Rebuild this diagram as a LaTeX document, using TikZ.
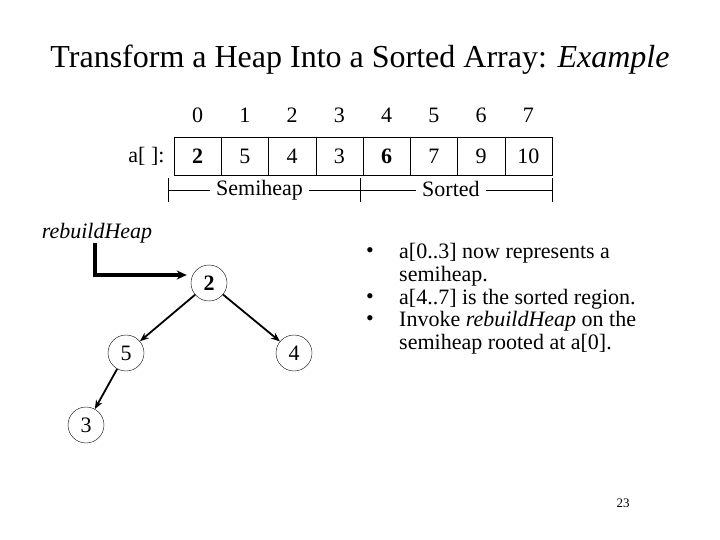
\documentclass[tikz,border=0pt]{standalone}
\usepackage{fontspec}
\setmainfont{Liberation Serif}
\usetikzlibrary{arrows.meta}
\begin{document}
\begin{tikzpicture}[x=1pt,y=-1pt,
  cellbox/.style={draw,minimum width=47.25pt,minimum height=38pt,inner sep=0pt,font=\fontsize{22}{26}\selectfont},
  idx/.style={font=\fontsize{22}{26}\selectfont},
  tnode/.style={draw,circle,minimum size=36pt,inner sep=0pt,font=\fontsize{22}{26}\selectfont},
  edge/.style={-{Stealth[length=9pt,width=7pt]},line width=1.8pt},
  txt/.style={font=\fontsize{22}{26}\selectfont,anchor=west,inner sep=0pt}]
\useasboundingbox (0,0) rectangle (720,540);
\node[font=\fontsize{32}{38}\selectfont] (title) at (360,60) {Transform a Heap Into a Sorted Array: \textit{Example}};
\foreach \v [count=\i from 0] in {\textbf{2},5,4,3,\textbf{6},7,9,10} {
  \node[cellbox] (c\i) at ({197.6+47.25*\i},156) {\v};
  \node[idx] (i\i) at ({197.6+47.25*\i},115) {\i};
}
\node[idx,anchor=east] (lbl) at (168,156) {a[ ]:};
\coordinate (t0) at (168,190); \coordinate (t1) at (360,190); \coordinate (t2) at (552,190);
\foreach \t in {t0,t1,t2} \draw ([yshift=-12pt]\t) -- ([yshift=12pt]\t);
\node[idx,fill=white,inner xsep=6pt,anchor=west] (semi) at (210,190) {\raisebox{3pt}{Semiheap}};
\node[idx,fill=white,inner xsep=6pt,anchor=west] (sort) at (416,190) {\raisebox{3pt}{Sorted}};
\draw (t0) -- (semi.west); \draw (semi.east) -- (t1);
\draw (t1) -- (sort.west); \draw (sort.east) -- (t2);
\node[idx] (rb) at (97,233) {\textit{rebuildHeap}};
\node[tnode,font=\fontsize{22}{26}\selectfont\bfseries] (n2) at (209,283) {2};
\node[tnode] (n5) at (126,353) {5};
\node[tnode] (n4) at (294,353) {4};
\node[tnode] (n3) at (86,425) {3};
\coordinate (rc) at (95,275);
\draw[-{Stealth[length=10pt,width=9pt]},line width=3.5pt] ([yshift=4pt]rb.south -| rc) -- (rc) -- ([xshift=-4pt]n2.west |- rc);
\draw[edge] (n2) -- (n5);
\draw[edge] (n2) -- (n4);
\draw[edge] (n5) -- (n3);
\foreach \y in {253,299,321} \node[txt] (b\y) at (366,\y) {•};
\node[txt] (l1) at (399,253) {a[0..3] now represents a};
\node[txt] (l2) at (399,276) {semiheap.};
\node[txt] (l3) at (399,299) {a[4..7] is the sorted region.};
\node[txt] (l4) at (399,321) {Invoke \textit{rebuildHeap} on the};
\node[txt] (l5) at (399,344) {semiheap rooted at a[0].};
\node[font=\fontsize{13}{15}\selectfont] (pg) at (623,503) {23};
\end{tikzpicture}
\end{document}
